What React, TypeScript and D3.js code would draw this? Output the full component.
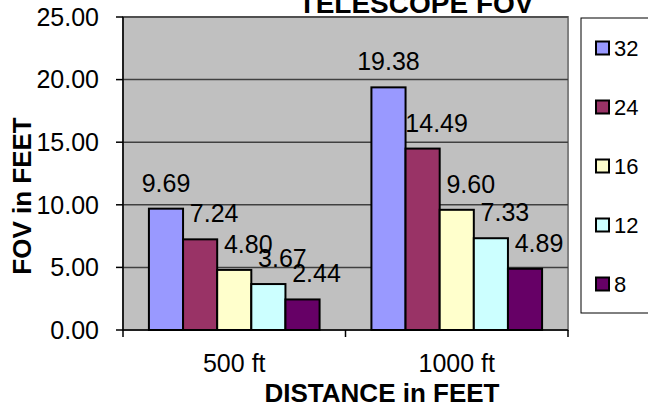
import React from "react";
import * as d3 from "d3";

// chart data
const categories = ["500 ft", "1000 ft"];
const seriesNames = ["32", "24", "16", "12", "8"];
const seriesValues = [
  [9.69, 19.38],
  [7.24, 14.49],
  [4.8, 9.6],
  [3.67, 7.33],
  [2.44, 4.89],
];
const yTicks = [0, 5, 10, 15, 20, 25];
const seriesColors = ["#9999FF", "#993366", "#FFFFCC", "#CCFFFF", "#660066"];

const W = 648;
const H = 408;
const plot = { left: 123, right: 568, top: 17, bottom: 330 };
const font = "'Liberation Sans', Arial, sans-serif";

const App: React.FC = () => {
  const x0 = d3
    .scaleBand<string>()
    .domain(categories)
    .range([plot.left, plot.right])
    .paddingInner(0.233)
    .paddingOuter(0.1165);

  const x1 = d3
    .scaleBand<string>()
    .domain(seriesNames)
    .range([0, x0.bandwidth()]);

  const y = d3.scaleLinear().domain([0, 25]).range([plot.bottom, plot.top]);

  // category boundaries for the tick marks
  const step = x0.step();
  const catTicks = categories.map((_, i) => plot.left + i * step).concat([plot.right]);

  return (
    <svg
      width={W}
      height={H}
      style={{ position: "absolute", left: 0, top: 0, background: "#fff" }}
      fontFamily={font}
    >
      {/* plot area */}
      <rect
        x={plot.left}
        y={plot.top}
        width={plot.right - plot.left}
        height={plot.bottom - plot.top}
        fill="#C0C0C0"
        stroke="#808080"
        strokeWidth={2}
      />
      {yTicks.slice(1).map((t) => (
        <line
          key={t}
          x1={plot.left}
          x2={plot.right}
          y1={y(t)}
          y2={y(t)}
          stroke="#404040"
          strokeWidth={1.5}
        />
      ))}

      {/* bars */}
      {seriesNames.map((s, si) =>
        categories.map((c, ci) => {
          const v = seriesValues[si][ci];
          const bx = (x0(c) ?? 0) + (x1(s) ?? 0);
          return (
            <rect
              key={s + c}
              x={bx}
              y={y(v)}
              width={x1.bandwidth()}
              height={plot.bottom - y(v)}
              fill={seriesColors[si]}
              stroke="#000"
              strokeWidth={2}
            />
          );
        })
      )}

      {/* data labels */}
      {seriesNames.map((s, si) =>
        categories.map((c, ci) => {
          const v = seriesValues[si][ci];
          const cx = (x0(c) ?? 0) + (x1(s) ?? 0) + x1.bandwidth() / 2 + (si === 0 ? 0 : 14);
          return (
            <text
              key={"l" + s + c}
              x={cx}
              y={y(v) - 17}
              textAnchor="middle"
              fontSize={25}
              fill="#000"
            >
              {v.toFixed(2)}
            </text>
          );
        })
      )}

      {/* axes */}
      <line x1={plot.left} x2={plot.left} y1={plot.top} y2={plot.bottom} stroke="#000" strokeWidth={1.5} />
      <line x1={plot.left} x2={plot.right} y1={plot.bottom} y2={plot.bottom} stroke="#000" strokeWidth={1.5} />
      {yTicks.map((t) => (
        <g key={"yt" + t}>
          <line x1={plot.left - 7} x2={plot.left} y1={y(t)} y2={y(t)} stroke="#000" strokeWidth={1.5} />
          <text x={99} y={y(t)} dy="0.35em" textAnchor="end" fontSize={25}>
            {t.toFixed(2)}
          </text>
        </g>
      ))}
      {catTicks.map((t, i) => (
        <line key={"xt" + i} x1={t} x2={t} y1={plot.bottom} y2={plot.bottom + 7} stroke="#000" strokeWidth={1.5} />
      ))}
      {categories.map((c) => (
        <text key={"xl" + c} x={(x0(c) ?? 0) + x0.bandwidth() / 2} y={372} textAnchor="middle" fontSize={25}>
          {c}
        </text>
      ))}

      {/* titles */}
      <text x={416} y={13} textAnchor="middle" fontSize={28} fontWeight="bold">
        TELESCOPE FOV
      </text>
      <text x={382} y={402} textAnchor="middle" fontSize={26} fontWeight="bold">
        DISTANCE in FEET
      </text>
      <text
        transform="translate(31,196) rotate(-90)"
        textAnchor="middle"
        fontSize={26}
        fontWeight="bold"
      >
        FOV in FEET
      </text>

      {/* legend */}
      <rect x={581} y={18} width={100} height={295} fill="#fff" stroke="#000" strokeWidth={1} />
      {seriesNames.map((s, si) => {
        const cy = 48 + si * 59;
        return (
          <g key={"lg" + s}>
            <rect x={596} y={cy - 6.5} width={13} height={13} fill={seriesColors[si]} stroke="#000" strokeWidth={2} />
            <text x={614} y={cy} dy="0.35em" fontSize={22}>
              {s}
            </text>
          </g>
        );
      })}
    </svg>
  );
};

export default App;
